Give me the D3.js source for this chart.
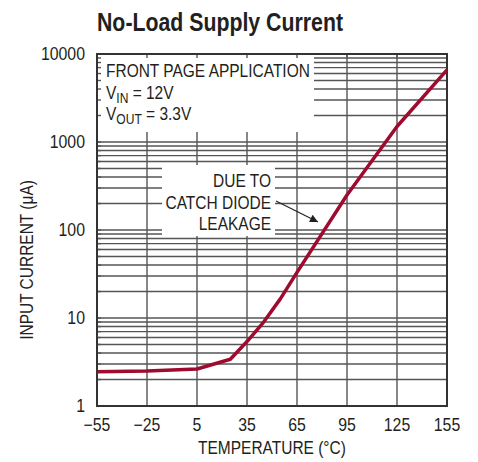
<!DOCTYPE html>
<meta charset="utf-8">
<style>
body { margin: 0; background: #fff; }
svg { font-family: "Liberation Sans Narrow", "Liberation Sans", Arial, sans-serif; }
.grid line { stroke: #555; stroke-width: 1.4; }
.lbl { fill: #231f20; font-size: 18px; }
</style>
<svg width="478" height="462"></svg>
<script src="https://d3js.org/d3.v7.min.js"></script>
<script>

var temps = [-55, -25, 5, 25, 35, 45, 55, 65, 95, 125, 155];
var current = [2.45, 2.5, 2.63, 3.4, 5.4, 9.0, 16.5, 33, 250, 1500, 6600];
var xTicks = [-55, -25, 5, 35, 65, 95, 125, 155];
var xTickLabels = ["\u221255", "\u221225", "5", "35", "65", "95", "125", "155"];
var yTicks = [1, 10, 100, 1000, 10000];
var yTickLabels = ["1", "10", "100", "1000", "10000"];

var svg = d3.select("svg");
var pLeft = 97, pRight = 447, pTop = 54, pBottom = 406;

var x = d3.scaleLinear().domain([-55, 155]).range([pLeft, pRight]);
var y = d3.scaleLog().domain([1, 10000]).range([pBottom, pTop]);

// squeeze text to look like the condensed face of the original
function condense(sel, k) {
  sel.each(function() {
    var w = this.getComputedTextLength();
    d3.select(this).attr("textLength", w * k).attr("lengthAdjust", "spacingAndGlyphs");
  });
}

// minor values 1..9 per decade
var minor = [];
for (var d = 1; d < 10000; d *= 10)
  for (var k = 1; k < 10; k++) minor.push(d * k);
minor.push(10000);

var title = svg.append("text")
    .attr("x", 97).attr("y", 31)
    .attr("font-size", 26).attr("font-weight", "bold")
    .attr("fill", "#231f20")
    .text("No-Load Supply Current");
title.attr("textLength", 246).attr("lengthAdjust", "spacingAndGlyphs");

var grid = svg.append("g").attr("class", "grid");
grid.selectAll(".h").data(minor).enter().append("line")
    .attr("x1", pLeft).attr("x2", pRight)
    .attr("y1", function(v) { return y(v); })
    .attr("y2", function(v) { return y(v); });
grid.selectAll(".v").data(xTicks).enter().append("line")
    .attr("y1", pTop).attr("y2", pBottom)
    .attr("x1", function(t) { return x(t); })
    .attr("x2", function(t) { return x(t); });

// white label boxes over the grid
svg.append("rect").attr("x", pLeft).attr("y", pTop).attr("width", 217).attr("height", 78).attr("fill", "#fff");
svg.append("rect").attr("x", 162).attr("y", 165).attr("width", 113).attr("height", 71).attr("fill", "#fff");

// small inside ticks on the frame
var ticks = svg.append("g").attr("class", "grid");
ticks.selectAll(".lt").data(minor).enter().append("line")
    .attr("x1", pLeft).attr("x2", pLeft + 4)
    .attr("y1", function(v) { return y(v); })
    .attr("y2", function(v) { return y(v); });
ticks.selectAll(".tt").data(xTicks).enter().append("line")
    .attr("y1", pTop).attr("y2", pTop + 4)
    .attr("x1", function(t) { return x(t); })
    .attr("x2", function(t) { return x(t); });

svg.append("rect")
    .attr("x", pLeft).attr("y", pTop)
    .attr("width", pRight - pLeft).attr("height", pBottom - pTop)
    .attr("fill", "none").attr("stroke", "#333").attr("stroke-width", 2);

var line = d3.line()
    .x(function(d, i) { return x(temps[i]); })
    .y(function(d) { return y(d); });

svg.append("path")
    .datum(current)
    .attr("d", line)
    .attr("fill", "none")
    .attr("stroke", "#9e0b2f")
    .attr("stroke-width", 3.5)
    .attr("stroke-linejoin", "round");

// axis tick labels
var yl = svg.selectAll(".yl").data(yTicks).enter().append("text")
    .attr("class", "lbl")
    .attr("x", 85)
    .attr("y", function(v) { return y(v) + 6; })
    .attr("text-anchor", "end")
    .text(function(v, i) { return yTickLabels[i]; });
condense(yl, 0.88);

var xl = svg.selectAll(".xl").data(xTicks).enter().append("text")
    .attr("class", "lbl")
    .attr("x", function(t) { return x(t); })
    .attr("y", 431)
    .attr("text-anchor", "middle")
    .text(function(t, i) { return xTickLabels[i]; });
condense(xl, 0.88);

var xt = svg.append("text").attr("class", "lbl")
    .attr("x", 272).attr("y", 454)
    .attr("text-anchor", "middle")
    .text("TEMPERATURE (\u00B0C)");
condense(xt, 0.86);

var yt = svg.append("text").attr("class", "lbl")
    .attr("transform", "translate(33,260) rotate(-90)")
    .attr("text-anchor", "middle")
    .text("INPUT CURRENT (\u03BCA)");
condense(yt, 0.86);

// annotation: conditions
var t1 = svg.append("text").attr("class", "lbl").attr("x", 106).attr("y", 77).text("FRONT PAGE APPLICATION");
var t2 = svg.append("text").attr("class", "lbl").attr("x", 106).attr("y", 99);
t2.append("tspan").text("V");
t2.append("tspan").attr("font-size", 14).attr("dy", 4).text("IN");
t2.append("tspan").attr("dy", -4).text(" = 12V");
var t3 = svg.append("text").attr("class", "lbl").attr("x", 106).attr("y", 120);
t3.append("tspan").text("V");
t3.append("tspan").attr("font-size", 14).attr("dy", 4).text("OUT");
t3.append("tspan").attr("dy", -4).text(" = 3.3V");
condense(t1, 0.86);
condense(t2, 0.86);
condense(t3, 0.86);

// annotation: leakage
var note = ["DUE TO", "CATCH DIODE", "LEAKAGE"];
var nt = svg.selectAll(".nt").data(note).enter().append("text")
    .attr("class", "lbl")
    .attr("x", 271)
    .attr("y", function(s, i) { return 187 + i * 21.5; })
    .attr("text-anchor", "end")
    .text(function(s) { return s; });
condense(nt, 0.86);

svg.append("defs").append("marker")
    .attr("id", "ah").attr("viewBox", "0 0 10 10")
    .attr("refX", 10).attr("refY", 5)
    .attr("markerWidth", 12).attr("markerHeight", 8)
    .attr("markerUnits", "userSpaceOnUse")
    .attr("orient", "auto")
    .append("path").attr("d", "M0,0L10,5L0,10z").attr("fill", "#231f20");

svg.append("line")
    .attr("x1", 276).attr("y1", 201)
    .attr("x2", 318).attr("y2", 222)
    .attr("stroke", "#231f20").attr("stroke-width", 1.2)
    .attr("marker-end", "url(#ah)");

</script>
